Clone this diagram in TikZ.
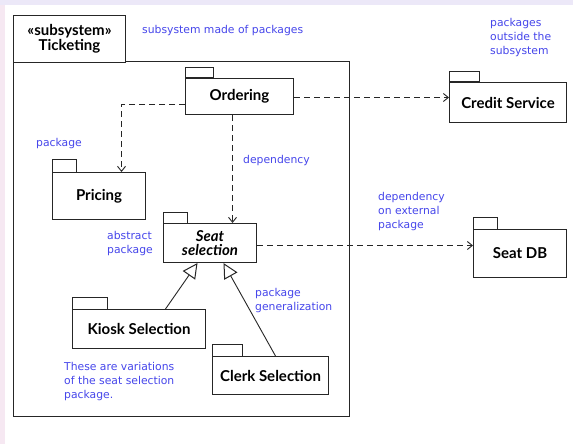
\documentclass[tikz,border=0pt]{standalone}
\usepackage{fontspec}
\setmainfont{Lato}
\newfontfamily\labelfont{DejaVu Sans}
\usetikzlibrary{arrows.meta,positioning}
\definecolor{notecol}{RGB}{70,70,235}
\definecolor{topstrip}{RGB}{236,232,248}
\definecolor{leftstrip}{RGB}{246,232,242}
\tikzset{
  pkg/.style={draw=black!85, line width=1pt, fill=white, anchor=north west, inner sep=0pt, align=center, font=\bfseries\fontsize{15}{15}\selectfont},
  tabbox/.style={draw=black!85, line width=1pt, fill=white},
  note/.style={text=notecol, anchor=north west, inner sep=0pt, align=left, font=\labelfont\fontsize{10.8}{14}\selectfont},
  dep/.style={draw=black!85, line width=1pt, dash pattern=on 6pt off 4pt, -{Straight Barb[length=5pt,width=8pt,line width=0.9pt]}},
  gen/.style={draw=black!85, line width=0.9pt, -{Triangle[open,length=15pt,width=15pt,fill=white,line width=1pt]}},
}
\begin{document}
\begin{tikzpicture}[x=1pt,y=-1pt]
\useasboundingbox (0,0) rectangle (573,444);
\fill[white] (0,0) rectangle (573,444);
\fill[topstrip] (0,0) rectangle (573,5);
\fill[leftstrip] (0,5) rectangle (5,444);

% subsystem frame
\draw[line width=1pt, draw=black!85] (13,62) rectangle (349,416);
\node[pkg, minimum width=112pt, minimum height=47pt, font=\bfseries\fontsize{15}{15.5}\selectfont] (sub) at (13,15) {«subsystem»\\Ticketing};

% packages
\node[pkg, minimum width=108pt, minimum height=36pt] (ord) at (185,78) {Ordering};
\draw[tabbox] (185,78) rectangle (213,68);
\node[pkg, minimum width=117pt, minimum height=40pt] (cred) at (449,82) {Credit Service};
\draw[tabbox] (449,82) rectangle (479,72);
\node[pkg, minimum width=93pt, minimum height=47pt] (pri) at (52,172) {Pricing};
\draw[tabbox] (52,172) rectangle (76,159);
\node[pkg, minimum width=93pt, minimum height=39pt, font=\bfseries\itshape\fontsize{15}{14.5}\selectfont] (seat) at (163,223) {Seat\\selection};
\draw[tabbox] (163,223) rectangle (187,212);
\node[pkg, minimum width=93pt, minimum height=48pt] (sdb) at (473,229) {Seat DB};
\draw[tabbox] (473,229) rectangle (497,217);
\node[pkg, minimum width=133pt, minimum height=39pt] (kiosk) at (72,309) {Kiosk Selection};
\draw[tabbox] (72,309) rectangle (107,297);
\node[pkg, minimum width=116pt, minimum height=38pt] (clerk) at (212,356) {Clerk Selection};
\draw[tabbox] (212,356) rectangle (242,344);

% connectors
\draw[dep] ([yshift=-1pt]ord.east) -- ([yshift=-1pt]ord.east -| cred.west);
\draw[dep] ([yshift=-8pt]ord.west) -| ([xshift=22.5pt]pri.north);
\draw[dep] ([xshift=-7pt]ord.south) -- ([xshift=-7pt]ord.south |- seat.north);
\draw[dep] ([yshift=-2.5pt]seat.east) -- ([yshift=-2.5pt]seat.east -| sdb.west);
\draw[gen] ([xshift=26.5pt]kiosk.north) -- ([xshift=-12.5pt]seat.south);
\draw[gen] ([xshift=5pt]clerk.north) -- ([xshift=13.5pt]seat.south);

% notes
\node[note] (n1) at (142,25) {subsystem made of packages};
\node[note] (n2) at (490,18) {packages\\outside the\\subsystem};
\node[note] (n3) at (36,138) {package};
\node[note] (n4) at (243,155) {dependency};
\node[note] (n5) at (378,192) {dependency\\on external\\package};
\node[note] (n6) at (107,231) {abstract\\package};
\node[note] (n7) at (255,288) {package\\generalization};
\node[note] (n8) at (64,362) {These are variations\\of the seat selection\\package.};
\end{tikzpicture}
\end{document}
